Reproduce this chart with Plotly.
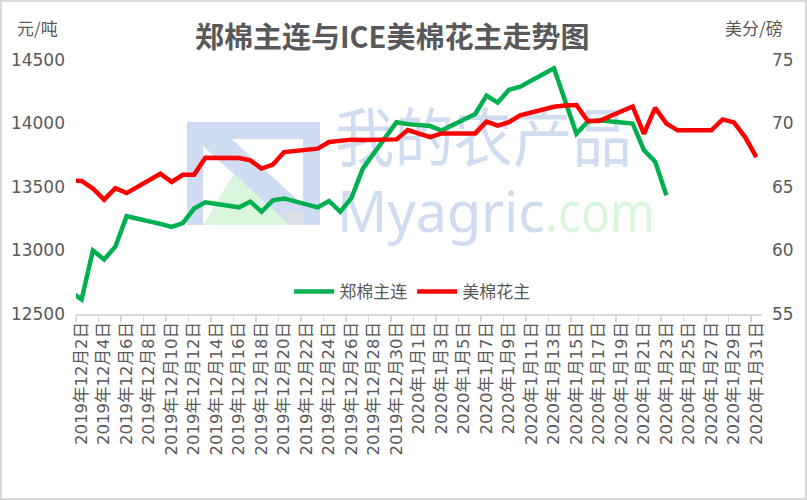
import base64
import datetime
import plotly.graph_objects as go

# ---------------- data ----------------
zc_dates = ["2019-11-29", "2019-12-02", "2019-12-03", "2019-12-04", "2019-12-05", "2019-12-06",
            "2019-12-09", "2019-12-10", "2019-12-11", "2019-12-12", "2019-12-13",
            "2019-12-16", "2019-12-17", "2019-12-18", "2019-12-19", "2019-12-20",
            "2019-12-23", "2019-12-24", "2019-12-25", "2019-12-26", "2019-12-27",
            "2019-12-30", "2019-12-31", "2020-01-02", "2020-01-03",
            "2020-01-06", "2020-01-07", "2020-01-08", "2020-01-09", "2020-01-10",
            "2020-01-13", "2020-01-14", "2020-01-15", "2020-01-16", "2020-01-17",
            "2020-01-20", "2020-01-21", "2020-01-22", "2020-01-23"]
zc_values = [12800, 12615, 13000, 12930, 13030, 13270,
             13210, 13185, 13215, 13330, 13380,
             13340, 13385, 13305, 13395, 13410,
             13340, 13390, 13305, 13415, 13645,
             14010, 13995, 13980, 13945,
             14075, 14220, 14165, 14265, 14290,
             14435, 14180, 13920, 14015, 14025,
             14000, 13790, 13700, 13435]

ice_dates = ["2019-11-29", "2019-12-02", "2019-12-03", "2019-12-04", "2019-12-05", "2019-12-06",
             "2019-12-09", "2019-12-10", "2019-12-11", "2019-12-12", "2019-12-13",
             "2019-12-16", "2019-12-17", "2019-12-18", "2019-12-19", "2019-12-20",
             "2019-12-23", "2019-12-24", "2019-12-26", "2019-12-27",
             "2019-12-30", "2019-12-31", "2020-01-02", "2020-01-03",
             "2020-01-06", "2020-01-07", "2020-01-08", "2020-01-09", "2020-01-10",
             "2020-01-13", "2020-01-14", "2020-01-15", "2020-01-16", "2020-01-17",
             "2020-01-20", "2020-01-21", "2020-01-22", "2020-01-23", "2020-01-24",
             "2020-01-27", "2020-01-28", "2020-01-29", "2020-01-30", "2020-01-31"]
ice_values = [65.50, 65.48, 64.88, 64.00, 64.90, 64.52,
              66.04, 65.40, 65.96, 65.96, 67.30,
              67.28, 67.10, 66.45, 66.76, 67.75,
              68.02, 68.54, 68.73, 68.71,
              68.75, 69.48, 68.93, 69.22,
              69.22, 70.14, 69.83, 70.11, 70.64,
              71.32, 71.42, 71.46, 70.19, 70.19,
              71.35, 69.18, 71.23, 69.99, 69.46,
              69.46, 70.32, 70.09, 68.93, 67.36]

series_names = ["郑棉主连", "美棉花主"]
title_text = "郑棉主连与ICE美棉花主走势图"
left_unit = "元/吨"
right_unit = "美分/磅"
left_ticks = [12500, 13000, 13500, 14000, 14500]
right_ticks = [55, 60, 65, 70, 75]

start = datetime.date(2019, 12, 2)
tick_dates = [start + datetime.timedelta(days=2 * k) for k in range(31)]
tick_vals = [d.isoformat() for d in tick_dates]
tick_text = [f"{d.year}年{d.month}月{d.day}日" for d in tick_dates]

GRAY = "#595959"
FONT = "DejaVu Sans, Noto Sans CJK SC, sans-serif"
CJK = "Noto Sans CJK SC, sans-serif"

# ---------------- watermark (decorative background image) ----------------
svg = f'''<svg xmlns="http://www.w3.org/2000/svg" width="807" height="500" viewBox="0 0 807 500">
<rect x="187" y="122" width="16" height="103" fill="#cfdcf2"/>
<rect x="303" y="122" width="17" height="103" fill="#cfdcf2"/>
<rect x="187" y="122" width="133" height="17" fill="#cfdcf2"/>
<polygon points="237,168 203,225 293,225" fill="#daf7de"/>
<polygon points="203,130 222,130 303,205 303,225 290,225 203,146" fill="#cfdcf2"/>
<polygon points="282,212 303,212 303,225 290,225" fill="#dcdfe5"/>
<text x="335" y="161" font-family="Noto Sans CJK SC" font-size="64" fill="#cfdcf2" textLength="297" lengthAdjust="spacingAndGlyphs">我的农产品</text>
<text x="337" y="232" font-family="Noto Sans" font-size="56" fill="#cfdcf2" textLength="208" lengthAdjust="spacingAndGlyphs">Myagric</text>
<text x="545" y="232" font-family="Noto Sans" font-size="56" fill="#daf7de" textLength="110" lengthAdjust="spacingAndGlyphs">.com</text>
</svg>'''
svg_uri = "data:image/svg+xml;base64," + base64.b64encode(svg.encode("utf-8")).decode("ascii")

# ---------------- figure ----------------
L, R, T, B = 76, 45, 60, 186
W, H = 807, 500
PW, PH = W - L - R, H - T - B

def px(x):
    return (x - L) / PW

def py(y):
    return (H - B - y) / PH

fig = go.Figure()
fig.add_trace(go.Scatter(x=zc_dates, y=zc_values, name=series_names[0], mode="lines",
                         line=dict(color="#00b050", width=4.5), yaxis="y", hoverinfo="skip"))
fig.add_trace(go.Scatter(x=ice_dates, y=ice_values, name=series_names[1], mode="lines",
                         line=dict(color="#ff0000", width=4.5), yaxis="y2", hoverinfo="skip"))

fig.update_layout(
    width=W, height=H,
    margin=dict(l=L, r=R, t=T, b=B, autoexpand=False),
    paper_bgcolor="white", plot_bgcolor="white",
    font=dict(family=FONT, size=17, color=GRAY),
    showlegend=True,
    legend=dict(orientation="h", x=0.49, xanchor="center", y=py(292), yanchor="middle",
                font=dict(family=CJK, size=17, color=GRAY), bgcolor="rgba(0,0,0,0)",
                itemwidth=40, tracegroupgap=0),
    xaxis=dict(type="date", range=["2019-12-01 12:00", "2020-01-31 12:00"],
               tickmode="array", tickvals=tick_vals, ticktext=tick_text, tickangle=-90,
               ticks="", showgrid=False, zeroline=False,
               showline=True, linecolor="#d9d9d9", linewidth=1.5,
               tickfont=dict(family=FONT, size=16.5, color=GRAY),
               minor=dict(ticks="outside", ticklen=6, tickwidth=1.5, tickcolor="#d9d9d9",
                          tickmode="linear", tick0="2019-12-01 12:00", dtick=2 * 86400000,
                          showgrid=False)),
    yaxis=dict(range=[12500, 14500], tickmode="array", tickvals=left_ticks, tickformat="d",
               showgrid=False, zeroline=False, showline=False, ticks="",
               tickfont=dict(family=FONT, size=17, color=GRAY), ticklabelstandoff=10),
    yaxis2=dict(range=[55, 75], tickmode="array", tickvals=right_ticks, tickformat="d",
                overlaying="y", side="right", showgrid=False, zeroline=False, showline=False,
                ticks="", tickfont=dict(family=FONT, size=17, color=GRAY), ticklabelstandoff=9),
    images=[dict(source=svg_uri, xref="paper", yref="paper", x=px(0), y=py(0),
                 sizex=W / PW, sizey=H / PH, sizing="stretch", xanchor="left", yanchor="top",
                 layer="below", opacity=1)],
    annotations=[
        dict(text=f"<b>{title_text}</b>", x=px(392), y=py(35), xref="paper", yref="paper",
             showarrow=False, xanchor="center", yanchor="middle",
             font=dict(family=CJK, size=29, color=GRAY)),
        dict(text=left_unit, x=px(37), y=py(27), xref="paper", yref="paper",
             showarrow=False, xanchor="center", yanchor="middle",
             font=dict(family=CJK, size=17, color=GRAY)),
        dict(text=right_unit, x=px(754), y=py(27), xref="paper", yref="paper",
             showarrow=False, xanchor="center", yanchor="middle",
             font=dict(family=CJK, size=17, color=GRAY)),
    ],
    shapes=[dict(type="rect", xref="paper", yref="paper", x0=px(1), x1=px(806), y0=py(499), y1=py(1),
                 line=dict(color="#d9d9d9", width=2), fillcolor="rgba(0,0,0,0)", layer="below")],
)

fig.write_html("out.html", config={"displayModeBar": False, "staticPlot": True},
               post_script="document.body.style.margin='0';document.body.style.overflow='hidden';")
